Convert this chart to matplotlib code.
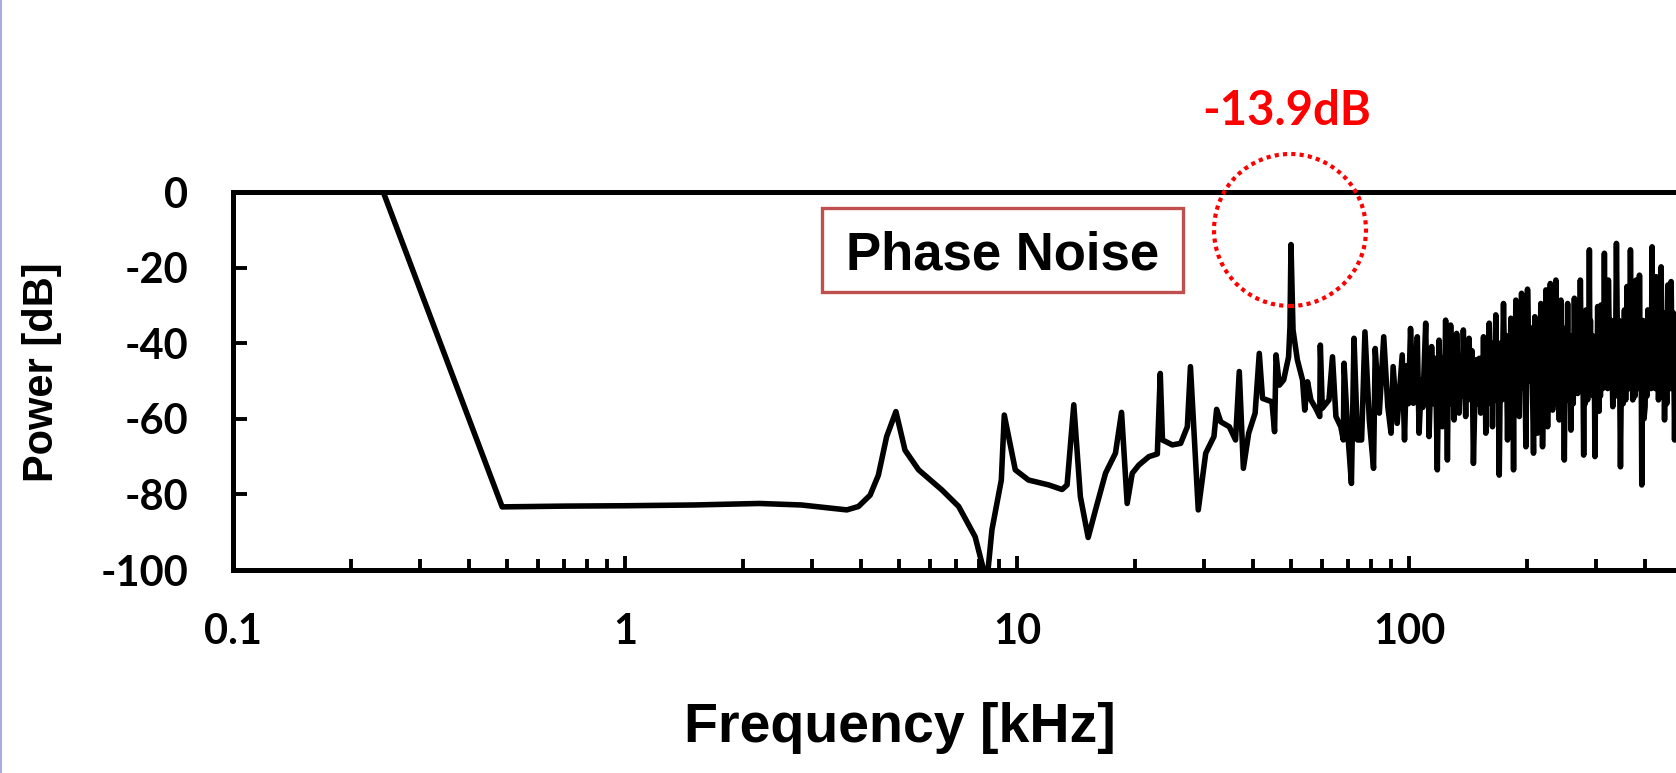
import matplotlib
matplotlib.use("Agg")
import numpy as np
import matplotlib.pyplot as plt
from matplotlib.patches import Ellipse, Rectangle
from matplotlib.lines import Line2D
from matplotlib.ticker import FixedLocator, NullFormatter, LogLocator

# ---------------- data ----------------
# 0.24 - 10 kHz
freq_a = [0.2417, 0.486, 0.7, 1.0, 1.5, 2.2, 2.82, 3.68, 3.94, 4.22, 4.43, 4.65,
          4.91, 5.18, 5.61, 6.43, 7.10, 7.82, 8.22, 8.38, 8.63, 9.12, 9.28, 9.90]
power_a = [0, -83.3, -83.1, -83.0, -82.8, -82.4, -82.8, -84.1, -83.2, -80.2, -74.9, -64.7,
           -58.1, -68.3, -73.5, -78.8, -83.2, -91.2, -100, -103, -89.4, -76.2, -59.0, -73.5]

# 10 - 54 kHz
freq_b = [10.7, 12.05, 13.03, 13.42, 13.96, 14.51, 15.19, 15.86, 16.82, 17.83, 18.48, 19.1,
          19.68, 20.47, 21.71, 22.8, 23.2, 23.5, 24.9, 26.15, 27.2, 27.7, 29.0, 30.3,
          31.8, 32.3, 33.1, 34.8, 36.1, 36.9, 37.8, 39.0, 40.5, 41.5, 42.3, 44.7,
          45.4, 45.8, 46.7, 47.9, 49.3, 49.7, 50.0, 50.6, 51.9, 53.5]
power_b = [-76.2, -77.5, -78.7, -77.5, -56.3, -80.6, -91.4, -84.1, -74.4, -69.1, -58.3, -82.4,
           -74.4, -72.2, -70.0, -69.3, -48.0, -65.6, -66.9, -66.5, -62.1, -46.2, -84.1, -69.1,
           -64.7, -57.5, -60.8, -62.1, -65.6, -47.5, -73.1, -63.8, -58.5, -42.7, -54.6, -55.5,
           -63.4, -43.1, -51.1, -49.7, -43.6, -35.6, -13.9, -36.5, -44.4, -49.7]

# 54 - 92 kHz
freq_c = [54.2, 55.1, 56.2, 57.8, 59.2, 59.4, 60.1, 62.5, 63.8, 65.1, 67.0, 68.0, 68.3,
          69.8, 71.3, 72.4, 73.9, 75.7, 77.2, 79.2, 81.2, 82.0, 84.0, 86.2, 88.3, 90.0, 91.1]
power_c = [-57.7, -50.2, -55.0, -57.2, -59.4, -40.5, -57.2, -55.0, -43.6, -59.4, -62.1, -65.6, -45.3,
           -63.8, -77.1, -38.7, -65.6, -65.6, -37.0, -60.3, -73.1, -41.4, -58.5, -38.3, -56.8, -63.8, -46.2]

# 93 - 210 kHz: spikes
freq_d = [93.3, 96.1, 97.4, 100.9, 102.6, 105.0, 106.1, 107.5, 110.3, 112.5, 114.2, 118.1,
          119.3, 121.6, 124.0, 125.3, 127.7, 130.3, 132.3, 134.2, 137.6, 139.5, 142.3, 146.0,
          148.0, 150.4, 152.4, 154.9, 157.0, 160.2, 163.3, 166.5, 169.9, 174.2, 178.4, 181.9,
          184.8, 187.3, 191.1, 193.7, 198.7, 200.6, 207.8, 209.4]
power_d = [-61.2, -43.1, -65.6, -36.1, -55.9, -38.3, -63.8, -49.7, -34.7, -64.7, -40.9, -73.5,
           -39.2, -62.1, -33.9, -70.9, -35.2, -60.3, -37.4, -58.5, -36.5, -59.4, -38.7, -71.8,
           -44.4, -48.0, -58.5, -38.3, -63.8, -34.7, -62.1, -32.5, -74.9, -29.5, -65.6, -33.4,
           -73.5, -28.6, -59.4, -26.8, -67.4, -25.7, -69.1, -33.0]
# 93 - 210 kHz: dense band between the spikes
freq_band_d = [98.5, 99.7, 103.4, 104.2, 108.4, 109.4, 111.0, 111.8, 115.5, 116.8,
               120.1, 120.9, 122.4, 123.2, 126.1, 126.9, 128.6, 129.5, 131.0, 131.7,
               135.3, 136.5, 140.4, 141.4, 143.5, 144.8, 149.2, 151.1, 153.2, 154.0,
               155.6, 156.3, 158.1, 159.1, 161.2, 162.3, 164.4, 165.4, 167.6, 168.8,
               171.3, 172.7, 175.6, 177.0, 179.6, 180.7, 182.9, 183.8, 185.6, 186.4,
               188.6, 189.8, 192.0, 192.8, 195.4, 197.0, 203.0, 205.4, 210.5, 211.7]
power_band_d = [-46, -56, -44, -54, -57, -45, -52, -42, -56, -44,
                -52, -44, -46, -56, -44, -56, -50, -42, -46, -55,
                -44, -54, -45, -55, -52, -42, -56, -44, -44, -55,
                -52, -42, -44, -56, -52, -40, -42, -55, -52, -40,
                -40, -55, -50, -38, -40, -54, -50, -38, -40, -54,
                -50, -36, -38, -52, -50, -36, -50, -36, -50, -38]

# 210 - 495 kHz: spikes
freq_e = [212.8, 216.9, 219.1, 223.5, 225.7, 229.4, 232.5, 237.0, 241.8, 244.1, 249.0, 253.9,
          258.9, 264.2, 269.3, 273.6, 279.0, 282.8, 285.5, 288.5, 291.2, 294.0, 298.1, 302.9,
          305.5, 308.9, 312.0, 315.1, 318.1, 322.6, 331.0, 338.2, 346.3, 354.5, 357.0, 359.9,
          363.0, 367.2, 372.2, 379.5, 383.0, 387.2, 392.5, 400.2, 406.6, 410.0, 417.0, 421.0,
          427.0, 433.0, 439.7, 448.6, 457.4, 462.0, 466.3, 475.8, 485.1, 495.0]
power_e = [-63.8, -29.5, -67.4, -25.9, -62.1, -24.2, -57.7, -23.3, -60.3, -28.6, -70.9, -29.5,
           -63.0, -28.1, -53.3, -23.3, -69.6, -31.2, -55.0, -15.3, -50.6, -38.0, -70.0, -30.3,
           -58.0, -29.9, -52.0, -16.2, -49.7, -23.3, -56.8, -13.6, -72.7, -31.2, -55.0, -25.0,
           -52.0, -15.3, -55.0, -23.3, -50.0, -22.0, -77.5, -56.8, -31.2, -52.0, -14.5, -50.0,
           -22.4, -55.0, -19.8, -60.3, -24.6, -52.0, -23.7, -65.6, -13.1, -55.0]
# 210 - 495 kHz: dense band between the spikes
freq_band_e = [214.2, 215.5, 217.6, 218.4, 220.5, 222.0, 224.2, 225.0, 226.9, 228.1,
               230.4, 231.4, 234.0, 235.5, 238.6, 240.2, 242.6, 243.3, 245.7, 247.3,
               250.6, 252.2, 255.6, 257.2, 260.7, 262.4, 265.9, 267.6, 270.7, 272.1,
               275.4, 277.2, 280.3, 281.5, 283.7, 284.6, 286.5, 287.5, 289.4, 290.3,
               295.4, 296.7, 299.7, 301.3, 303.8, 304.6, 306.6, 307.8, 309.9, 311.0,
               313.0, 314.1, 316.1, 317.1, 319.6, 321.1, 325.4, 328.2, 333.4, 335.8,
               340.9, 343.6, 349.0, 351.8, 355.3, 356.2, 358.0, 358.9, 360.9, 362.0,
               364.4, 365.8, 368.9, 370.5, 374.6, 377.1, 380.7, 381.8, 384.4, 385.8,
               389.0, 390.7, 395.1, 397.6, 402.3, 404.5, 407.7, 408.9, 412.3, 414.7,
               418.3, 419.7, 423.0, 425.0, 429.0, 431.0, 435.2, 437.5, 442.6, 445.6,
               451.5, 454.4, 458.9, 460.5, 463.4, 464.8, 469.4, 472.6, 478.9, 482.0,
               488.4, 491.7]
power_band_e = [-40, -54, -52, -40, -42, -56, -50, -38, -40, -55,
                -50, -38, -40, -56, -52, -38, -42, -54, -50, -36,
                -42, -55, -52, -38, -40, -56, -50, -36, -38, -52,
                -50, -36, -42, -56, -48, -36, -38, -52, -46, -34,
                -54, -40, -42, -56, -46, -36, -40, -54, -46, -34,
                -36, -50, -44, -30, -34, -52, -48, -34, -38, -54,
                -50, -34, -38, -56, -44, -36, -36, -50, -46, -34,
                -36, -52, -48, -32, -36, -54, -46, -32, -36, -52,
                -50, -34, -34, -60, -38, -54, -46, -34, -36, -52,
                -44, -32, -34, -52, -48, -32, -36, -54, -48, -32,
                -36, -56, -46, -34, -36, -52, -48, -32, -36, -54,
                -48, -32]

x_ticks = [0.1, 1, 10, 100]
x_tick_labels = ["0.1", "1", "10", "100"]
y_ticks = [-100, -80, -60, -40, -20, 0]
y_tick_labels = ["-100", "-80", "-60", "-40", "-20", "0"]

peak_label = "-13.9dB"
box_label = "Phase Noise"
x_label = "Frequency [kHz]"
y_label = "Power [dB]"

# merge all readings into one trace, ordered by frequency
freq_all = np.array(freq_a + freq_b + freq_c + freq_d + freq_band_d + freq_e + freq_band_e)
power_all = np.array(power_a + power_b + power_c + power_d + power_band_d + power_e + power_band_e)
order = np.argsort(freq_all, kind="stable")
freq_khz = freq_all[order]
power_db = power_all[order]

# ---------------- figure ----------------
W, H = 1676, 773
fig = plt.figure(figsize=(W / 100, H / 100), dpi=100)
fig.patch.set_facecolor("white")

ax = fig.add_axes([233 / W, 1 - 570 / H, (1801 - 233) / W, (570 - 192) / H])
ax.plot(freq_khz, power_db, color="black", lw=4.0, zorder=3)

ax.set_xscale("log")
ax.set_xlim(0.1, 1000)
ax.set_ylim(-100, 0)

ax.xaxis.set_major_locator(FixedLocator(x_ticks))
ax.set_xticklabels(x_tick_labels)
ax.xaxis.set_minor_locator(LogLocator(base=10, subs=[2, 3, 4, 5, 6, 7, 8, 9], numticks=20))
ax.xaxis.set_minor_formatter(NullFormatter())
ax.set_yticks(y_ticks)
ax.set_yticklabels(y_tick_labels)

for s in ax.spines.values():
    s.set_linewidth(3.6)
    s.set_color("black")

ax.tick_params(axis="both", which="both", direction="in", width=2.8, color="black")
ax.tick_params(axis="x", which="major", length=10, pad=31)
ax.tick_params(axis="x", which="minor", length=8)
ax.tick_params(axis="y", which="major", length=10, pad=32)
ax.tick_params(right=False, top=False)
for lab in ax.get_xticklabels() + ax.get_yticklabels():
    lab.set_fontfamily("Lato")
    lab.set_fontweight("bold")
    lab.set_fontsize(30)

# axis titles
fig.text(900 / W, 1 - 742 / H, x_label, ha="center", va="baseline",
         fontsize=40, fontweight="bold", family="Liberation Sans")
fig.text(42 / W, 1 - 372 / H, y_label, ha="center", va="center", rotation=90,
         fontsize=30, fontweight="bold", family="Liberation Sans")

# Phase Noise box
fig.add_artist(Rectangle((821.7 / W, 1 - 291.7 / H), 361.6 / W, 83.4 / H,
                         transform=fig.transFigure, facecolor="white",
                         edgecolor="#C0504D", lw=2.4, zorder=2))
fig.text(1003 / W, 1 - 270 / H, box_label, ha="center", va="baseline",
         fontsize=38, fontweight="bold", family="Liberation Sans", zorder=3)

# peak annotation
fig.add_artist(Ellipse((1290 / W, 1 - 230 / H), 152 / W, 152 / H,
                       transform=fig.transFigure, fill=False, edgecolor="red",
                       lw=3, linestyle=(0, (1, 1)), zorder=5))
fig.text(1287 / W, 1 - 125 / H, peak_label, ha="center", va="baseline", color="red",
         fontsize=34, fontweight="bold", family="Lato")

# slide border line on the left
fig.add_artist(Line2D([1 / W, 1 / W], [0, 1], transform=fig.transFigure,
                      color="#aaaadd", lw=1.5))

fig.savefig("out.png", dpi=100, facecolor="white")
